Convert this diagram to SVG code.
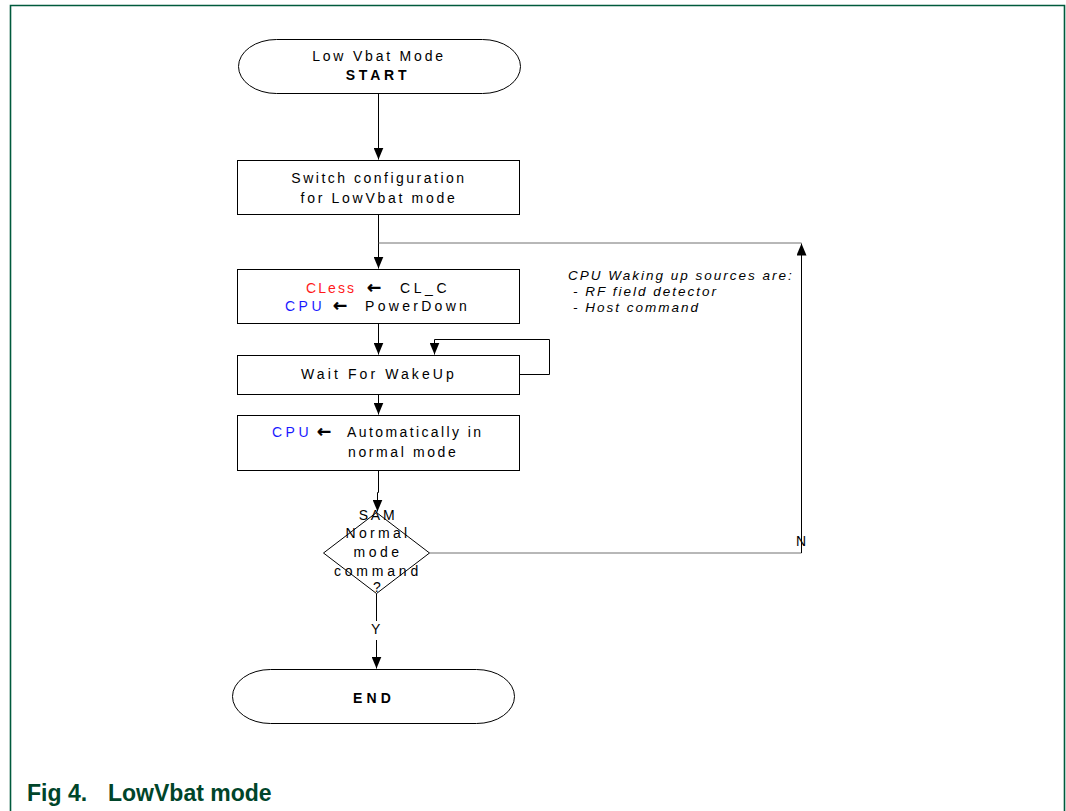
<svg xmlns="http://www.w3.org/2000/svg" width="1066" height="811" viewBox="0 0 1066 811">
<defs>
<style>
.t{font-family:"Liberation Sans",Arial,sans-serif;font-size:14px;fill:#000;letter-spacing:2.6px}
.c{text-anchor:middle}
.b{font-weight:bold}
.i{font-style:italic;font-size:13.5px;letter-spacing:2px}
.ar{font-family:"DejaVu Sans",sans-serif;font-weight:bold;font-size:17px;fill:#000;stroke:#000;stroke-width:0.4}
.red{fill:#ff1a1a}
.blue{fill:#1a1aff}
.shape{fill:#fff;stroke:#000;stroke-width:1}
.ln{fill:none;stroke:#000;stroke-width:1}
.gl{fill:none;stroke:#707070;stroke-width:1}
</style>
<marker id="ah" viewBox="0 0 12 10" refX="12" refY="5" markerWidth="12" markerHeight="10" markerUnits="userSpaceOnUse" orient="auto">
<path d="M0,0 L12,5 L0,10 z" fill="#000"/>
</marker>
</defs>
<rect width="1066" height="811" fill="#fff"/>
<path d="M10.5,811 V5.5 H1064.5 V811" fill="none" stroke="#005a3c" stroke-width="1.6"/>
<text x="27" y="801" font-family="'Liberation Sans',Arial,sans-serif" font-weight="bold" font-size="23px" fill="#00452a">Fig 4.<tspan x="108">LowVbat mode</tspan></text>

<g id="connectors">
<path class="ln" d="M378.5,93.5 V159.5" marker-end="url(#ah)"/>
<path class="ln" d="M378.5,214.5 V268.5" marker-end="url(#ah)"/>
<path class="gl" d="M378.5,243 H801.5"/>
<path class="ln" d="M378.5,323.5 V354.5" marker-end="url(#ah)"/>
<path class="ln" d="M519.5,374.5 H549.5 V339.5 H434.5 V354.5" marker-end="url(#ah)"/>
<path class="ln" d="M378.5,394.5 V414.5" marker-end="url(#ah)"/>
<path class="ln" d="M378.5,470.5 V492.5 H377.5 V511.5" marker-end="url(#ah)"/>
<path class="gl" d="M429.5,553 H801.5"/>
<path class="ln" d="M801.5,553 V243.5" marker-end="url(#ah)"/>
<path class="ln" d="M376.5,593.5 V621"/>
<path class="ln" d="M376.5,640 V668.5" marker-end="url(#ah)"/>
<text class="t" x="796" y="546" style="letter-spacing:0">N</text>
<text class="t" x="371" y="634" style="letter-spacing:0">Y</text>
</g>

<g id="start">
<rect class="shape" x="238.5" y="39.5" width="282" height="54" rx="38" ry="27"/>
<text class="t c" x="379" y="61" style="letter-spacing:2.8px">Low Vbat Mode</text>
<text class="t b c" x="378" y="80" style="letter-spacing:3.8px">START</text>
</g>

<g id="switch">
<rect class="shape" x="237.5" y="160.5" width="282" height="54"/>
<text class="t c" x="379" y="183" style="letter-spacing:2.5px">Switch configuration</text>
<text class="t c" x="379" y="203" style="letter-spacing:2.7px">for LowVbat mode</text>
</g>

<g id="powerdown">
<rect class="shape" x="237.5" y="269.5" width="282" height="54"/>
<text class="t red" x="306" y="293" style="letter-spacing:2.1px">CLess</text>
<text class="ar" x="367" y="293">←</text>
<text class="t" x="400" y="293" style="letter-spacing:3.6px">CL_C</text>
<text class="t blue" x="285" y="311" style="letter-spacing:3.5px">CPU</text>
<text class="ar" x="333" y="311">←</text>
<text class="t" x="365" y="311" style="letter-spacing:3.3px">PowerDown</text>
</g>

<g id="note">
<text class="t i" x="568" y="280">CPU Waking up sources are:</text>
<text class="t i" x="573" y="296">- RF field detector</text>
<text class="t i" x="573" y="312">- Host command</text>
</g>

<g id="wait">
<rect class="shape" x="237.5" y="355.5" width="282" height="39"/>
<text class="t c" x="379" y="379" style="letter-spacing:3.1px">Wait For WakeUp</text>
</g>

<g id="cpu-normal">
<rect class="shape" x="237.5" y="415.5" width="282" height="55"/>
<text class="t blue" x="272" y="437" style="letter-spacing:3.5px">CPU</text>
<text class="ar" x="317" y="437">←</text>
<text class="t" x="347" y="437" style="letter-spacing:2.4px">Automatically in</text>
<text class="t" x="348" y="457" style="letter-spacing:2.6px">normal mode</text>
</g>

<g id="decision">
<path class="shape" d="M376.5,512.5 L429.5,553 L376.5,593.5 L323.5,553 Z"/>
<text class="t c" x="378" y="520" style="letter-spacing:2.8px">SAM</text>
<text class="t c" x="378" y="538" style="letter-spacing:3.3px">Normal</text>
<text class="t c" x="378" y="557" style="letter-spacing:3.5px">mode</text>
<text class="t c" x="378" y="576" style="letter-spacing:3.8px">command</text>
<text class="t c" x="377" y="592" style="letter-spacing:0">?</text>
</g>

<g id="end">
<rect class="shape" x="232.5" y="669.5" width="282" height="54" rx="38" ry="27"/>
<text class="t b c" x="374" y="703" style="letter-spacing:4.2px">END</text>
</g>
</svg>
